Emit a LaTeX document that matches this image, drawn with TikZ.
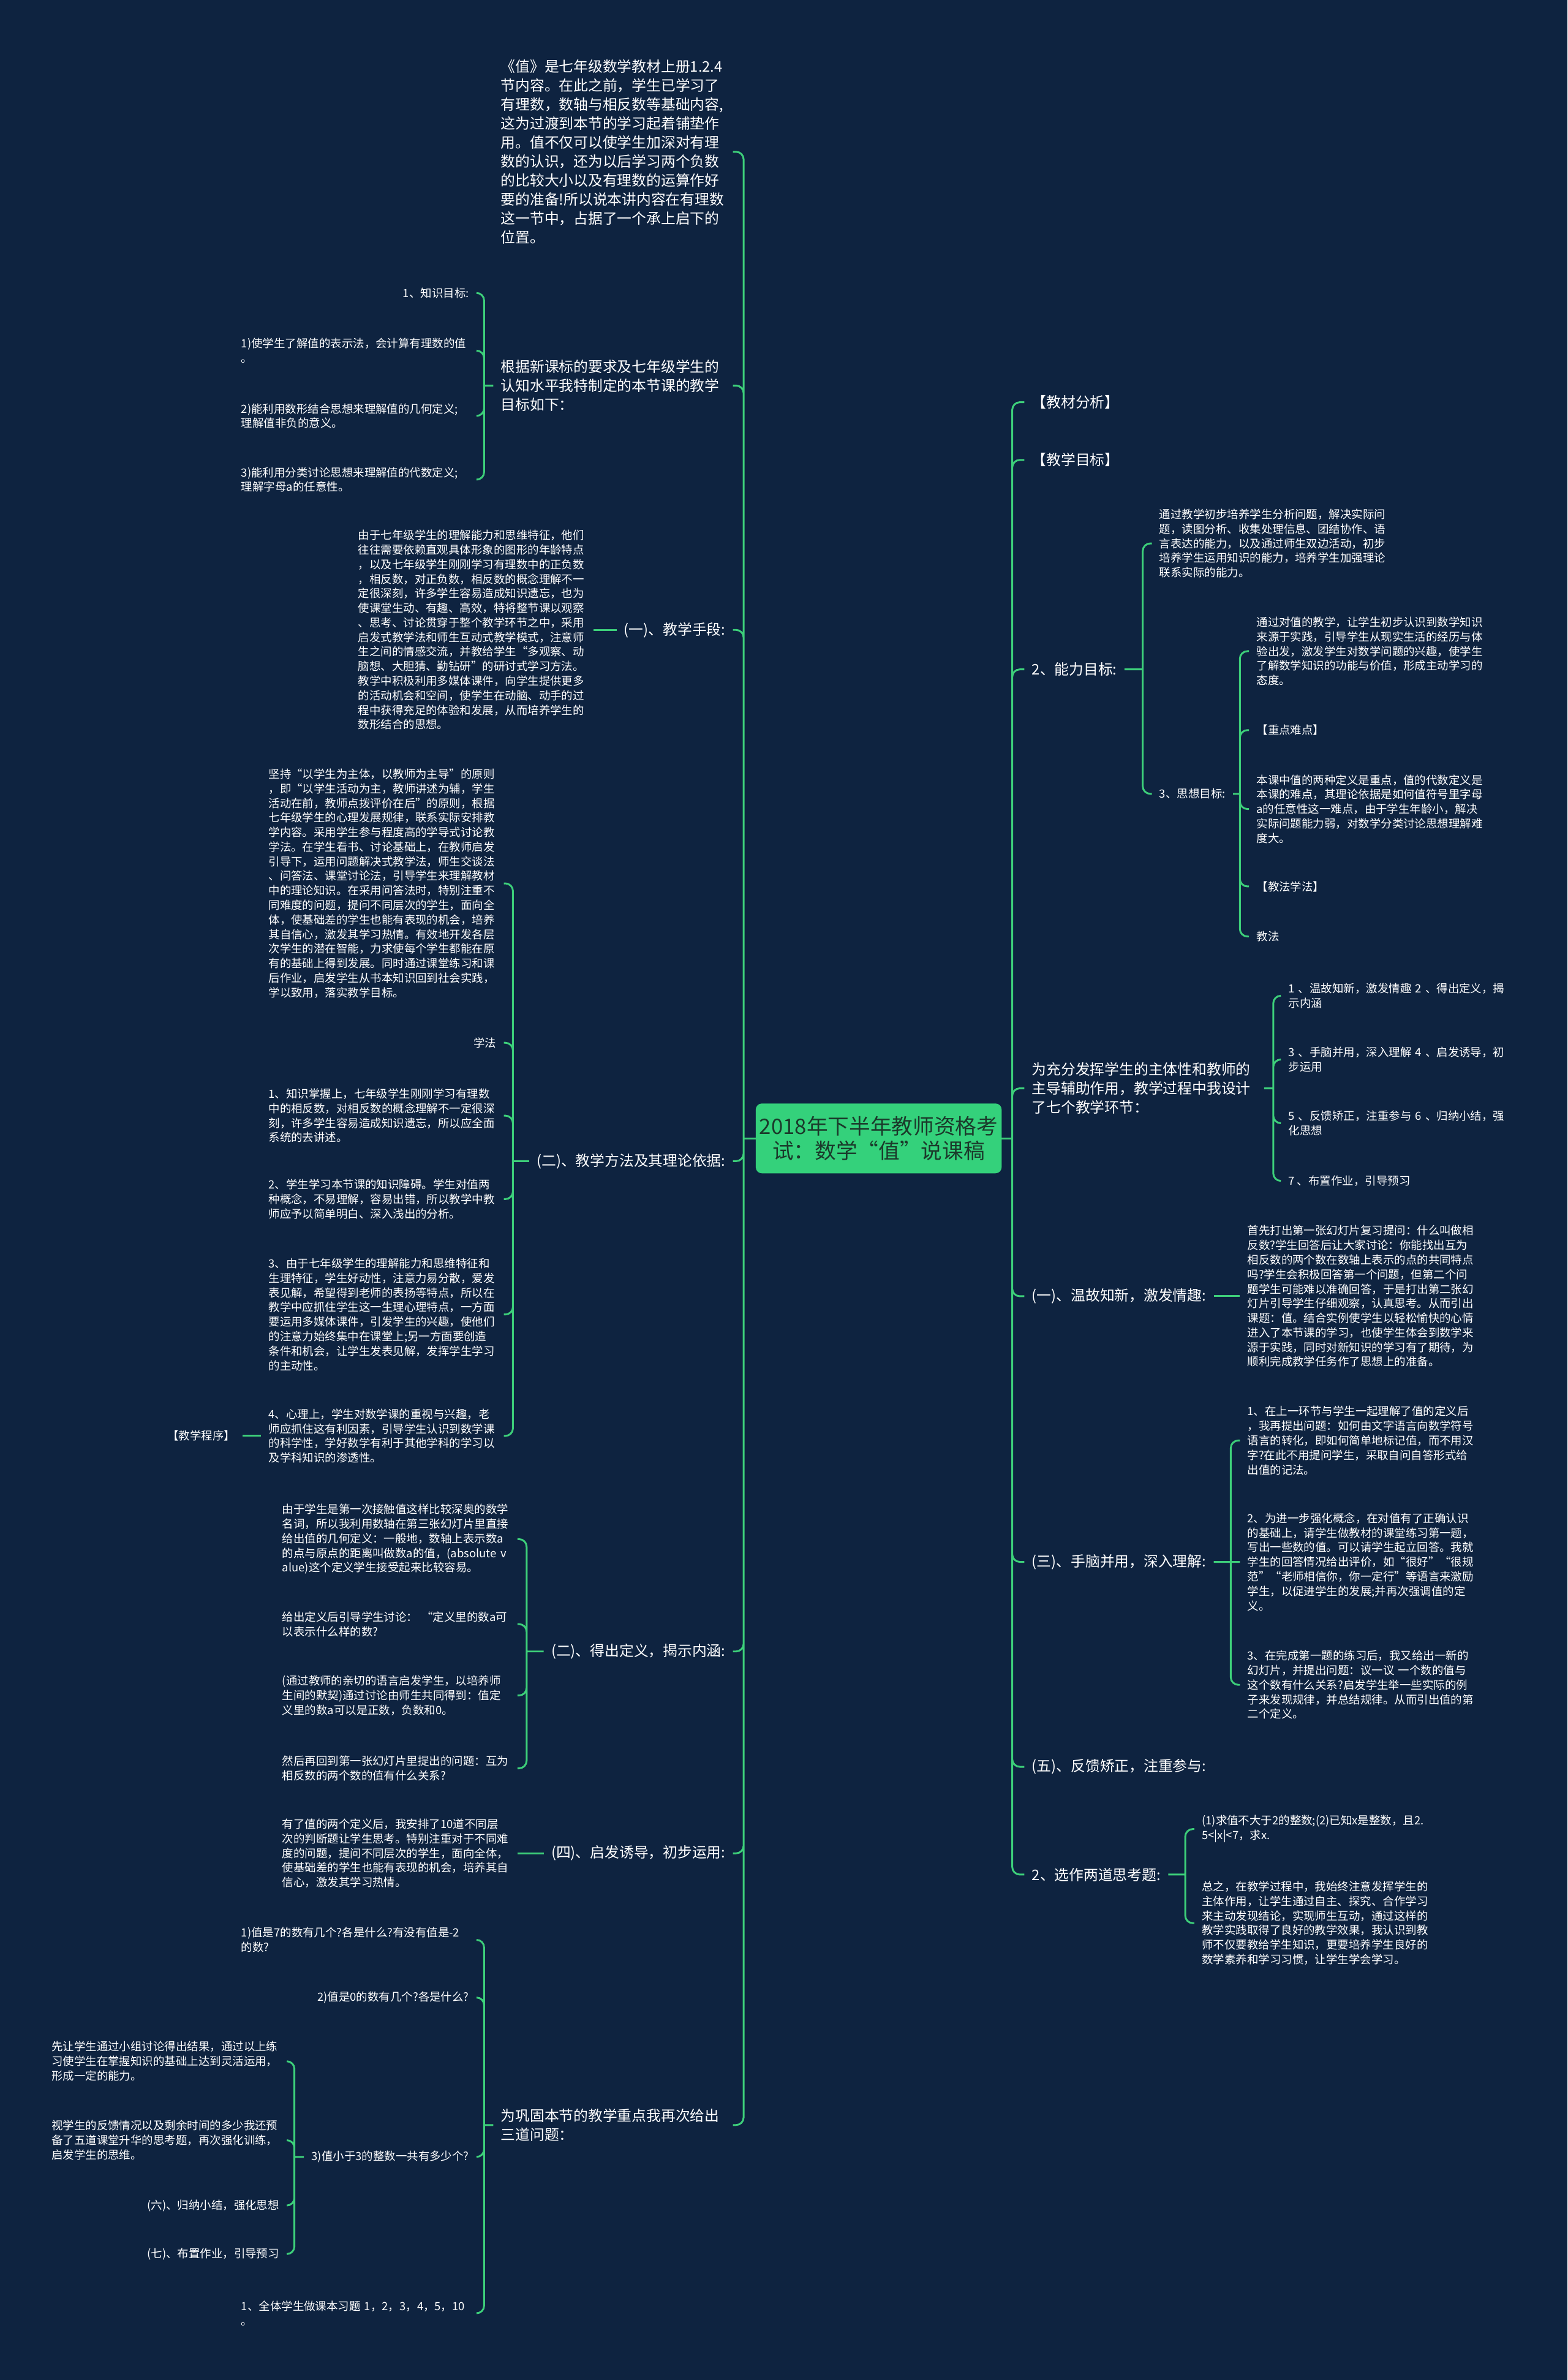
\documentclass[tikz,border=0pt]{standalone}
\usepackage{fontspec}
\setmainfont{Noto Sans CJK SC}
\definecolor{bgnavy}{HTML}{0E2340}
\definecolor{linkgreen}{HTML}{3DCF7A}
\definecolor{rootgreen}{HTML}{34D17B}
\definecolor{roottext}{HTML}{1B3A2B}

\begin{document}
\begin{tikzpicture}[x=1pt, y=-1pt,
	every node/.style={text=white, inner sep=0pt, outer xsep=5pt, outer ysep=0pt, align=left},
	big/.style={font=\fontsize{9.6}{12.5}\selectfont},
	small/.style={font=\fontsize{7.45}{9.6}\selectfont},
	bigpara/.style={big, text width=148pt},
	para/.style={small, text width=150pt},
	link/.style={draw=linkgreen, line width=1.2pt, rounded corners=5pt},
	root/.style={fill=rootgreen, text=roottext, rounded corners=4pt, minimum width=162pt, minimum height=46pt, align=center, outer sep=0pt, font=\fontsize{14}{16.5}\selectfont}]
	\path[use as bounding box, fill=bgnavy] (0,0) rectangle (1033,1568);

	\node[root] (root) at (579,750) {2018年下半年教师资格考\\试：数学“值”说课稿};
	\coordinate (jL) at (490,750);
	\coordinate (jR) at (667,750);

	\node[bigpara, anchor=east] (intro) at (483,100) {《值》是七年级数学教材上册1.2.4\\节内容。在此之前，学生已学习了\\有理数，数轴与相反数等基础内容,\\这为过渡到本节的学习起着铺垫作\\用。值不仅可以使学生加深对有理\\数的认识，还为以后学习两个负数\\的比较大小以及有理数的运算作好\\要的准备!所以说本讲内容在有理数\\这一节中，占据了一个承上启下的\\位置。};
	\node[bigpara, anchor=east] (goals) at (483,254) {根据新课标的要求及七年级学生的\\认知水平我特制定的本节课的教学\\目标如下：};
	\node[big, anchor=east] (means) at (483,415) {(一)、教学手段:};
	\node[big, anchor=east] (method) at (483,765) {(二)、教学方法及其理论依据:};
	\node[big, anchor=east] (define) at (483,1088) {(二)、得出定义，揭示内涵:};
	\node[big, anchor=east] (apply) at (483,1221) {(四)、启发诱导，初步运用:};
	\node[bigpara, anchor=east] (consol) at (483,1400) {为巩固本节的教学重点我再次给出\\三道问题：};

	\coordinate (jG) at (319,254);
	\node[small, anchor=east] (goalK) at (314,193) {1、知识目标:};
	\node[para, anchor=east] (goal1) at (314,231) {1)使学生了解值的表示法，会计算有理数的值\\。};
	\node[para, anchor=east] (goal2) at (314,274) {2)能利用数形结合思想来理解值的几何定义;\\理解值非负的意义。};
	\node[para, anchor=east] (goal3) at (314,316) {3)能利用分类讨论思想来理解值的代数定义;\\理解字母a的任意性。};

	\node[para, anchor=east] (meansTxt) at (391,415) {由于七年级学生的理解能力和思维特征，他们\\往往需要依赖直观具体形象的图形的年龄特点\\，以及七年级学生刚刚学习有理数中的正负数\\，相反数，对正负数，相反数的概念理解不一\\定很深刻，许多学生容易造成知识遗忘，也为\\使课堂生动、有趣、高效，特将整节课以观察\\、思考、讨论贯穿于整个教学环节之中，采用\\启发式教学法和师生互动式教学模式，注意师\\生之间的情感交流，并教给学生“多观察、动\\脑想、大胆猜、勤钻研”的研讨式学习方法。\\教学中积极利用多媒体课件，向学生提供更多\\的活动机会和空间，使学生在动脑、动手的过\\程中获得充足的体验和发展，从而培养学生的\\数形结合的思想。};

	\coordinate (jM) at (338,765);
	\node[para, anchor=east] (methodA) at (332,582) {坚持“以学生为主体，以教师为主导”的原则\\，即“以学生活动为主，教师讲述为辅，学生\\活动在前，教师点拨评价在后”的原则，根据\\七年级学生的心理发展规律，联系实际安排教\\学内容。采用学生参与程度高的学导式讨论教\\学法。在学生看书、讨论基础上，在教师启发\\引导下，运用问题解决式教学法，师生交谈法\\、问答法、课堂讨论法，引导学生来理解教材\\中的理论知识。在采用问答法时，特别注重不\\同难度的问题，提问不同层次的学生，面向全\\体，使基础差的学生也能有表现的机会，培养\\其自信心，激发其学习热情。有效地开发各层\\次学生的潜在智能，力求使每个学生都能在原\\有的基础上得到发展。同时通过课堂练习和课\\后作业，启发学生从书本知识回到社会实践，\\学以致用，落实教学目标。};
	\node[small, anchor=east] (studyM) at (332,687) {学法};
	\node[para, anchor=east] (basis1) at (332,735) {1、知识掌握上，七年级学生刚刚学习有理数\\中的相反数，对相反数的概念理解不一定很深\\刻，许多学生容易造成知识遗忘，所以应全面\\系统的去讲述。};
	\node[para, anchor=east] (basis2) at (332,790) {2、学生学习本节课的知识障碍。学生对值两\\种概念，不易理解，容易出错，所以教学中教\\师应予以简单明白、深入浅出的分析。};
	\node[para, anchor=east] (basis3) at (332,866) {3、由于七年级学生的理解能力和思维特征和\\生理特征，学生好动性，注意力易分散，爱发\\表见解，希望得到老师的表扬等特点，所以在\\教学中应抓住学生这一生理心理特点，一方面\\要运用多媒体课件，引发学生的兴趣，使他们\\的注意力始终集中在课堂上;另一方面要创造\\条件和机会，让学生发表见解，发挥学生学习\\的主动性。};
	\node[para, anchor=east] (basis4) at (332,946) {4、心理上，学生对数学课的重视与兴趣，老\\师应抓住这有利因素，引导学生认识到数学课\\的科学性，学好数学有利于其他学科的学习以\\及学科知识的渗透性。};
	\node[small, anchor=east] (program) at (160,946) {【教学程序】};

	\coordinate (jD) at (347,1088);
	\node[para, anchor=east] (def1) at (341,1014) {由于学生是第一次接触值这样比较深奥的数学\\名词，所以我利用数轴在第三张幻灯片里直接\\给出值的几何定义：一般地，数轴上表示数a\\的点与原点的距离叫做数a的值，(absolute v\\alue)这个定义学生接受起来比较容易。};
	\node[para, anchor=east] (def2) at (341,1070) {给出定义后引导学生讨论： “定义里的数a可\\以表示什么样的数?};
	\node[para, anchor=east] (def3) at (341,1117) {(通过教师的亲切的语言启发学生，以培养师\\生间的默契)通过讨论由师生共同得到：值定\\义里的数a可以是正数，负数和0。};
	\node[para, anchor=east] (def4) at (341,1165) {然后再回到第一张幻灯片里提出的问题：互为\\相反数的两个数的值有什么关系?};

	\node[para, anchor=east] (applyTxt) at (341,1221) {有了值的两个定义后，我安排了10道不同层\\次的判断题让学生思考。特别注重对于不同难\\度的问题，提问不同层次的学生，面向全体，\\使基础差的学生也能有表现的机会，培养其自\\信心，激发其学习热情。};

	\coordinate (jC) at (319,1400);
	\node[para, anchor=east] (q1) at (314,1278) {1)值是7的数有几个?各是什么?有没有值是-2\\的数?};
	\node[small, anchor=east] (q2) at (314,1316) {2)值是0的数有几个?各是什么?};
	\node[small, anchor=east] (q3) at (314,1421) {3)值小于3的整数一共有多少个?};
	\node[para, anchor=east] (q4) at (314,1524) {1、全体学生做课本习题 1，2，3，4，5，10\\。};
	\coordinate (jQ) at (194,1421);
	\node[para, anchor=east] (q3a) at (189,1358) {先让学生通过小组讨论得出结果，通过以上练\\习使学生在掌握知识的基础上达到灵活运用，\\形成一定的能力。};
	\node[para, anchor=east] (q3b) at (189,1410) {视学生的反馈情况以及剩余时间的多少我还预\\备了五道课堂升华的思考题，再次强化训练，\\启发学生的思维。};
	\node[small, anchor=east] (q3c) at (189,1453) {(六)、归纳小结，强化思想};
	\node[small, anchor=east] (q3d) at (189,1485) {(七)、布置作业，引导预习};

	\node[big, anchor=west] (analysis) at (675,265) {【教材分析】};
	\node[big, anchor=west] (target) at (675,303) {【教学目标】};
	\node[big, anchor=west] (ability) at (675,441) {2、能力目标:};
	\node[bigpara, anchor=west] (steps) at (675,717) {为充分发挥学生的主体性和教师的\\主导辅助作用，教学过程中我设计\\了七个教学环节：};
	\node[big, anchor=west] (warm) at (675,854) {(一)、温故知新，激发情趣:};
	\node[big, anchor=west] (hands) at (675,1029) {(三)、手脑并用，深入理解:};
	\node[big, anchor=west] (feedback) at (675,1164) {(五)、反馈矫正，注重参与:};
	\node[big, anchor=west] (extra) at (675,1235) {2、选作两道思考题:};

	\coordinate (jA) at (753,441);
	\node[para, anchor=west] (abilityTxt) at (759,358) {通过教学初步培养学生分析问题，解决实际问\\题，读图分析、收集处理信息、团结协作、语\\言表达的能力，以及通过师生双边活动，初步\\培养学生运用知识的能力，培养学生加强理论\\联系实际的能力。};
	\node[small, anchor=west] (thought) at (759,523) {3、思想目标:};
	\coordinate (jT) at (817,523);
	\node[para, anchor=west] (thoughtTxt) at (823,429) {通过对值的教学，让学生初步认识到数学知识\\来源于实践，引导学生从现实生活的经历与体\\验出发，激发学生对数学问题的兴趣，使学生\\了解数学知识的功能与价值，形成主动学习的\\态度。};
	\node[small, anchor=west] (keyTitle) at (823,481) {【重点难点】};
	\node[para, anchor=west] (keyTxt) at (823,533) {本课中值的两种定义是重点，值的代数定义是\\本课的难点，其理论依据是如何值符号里字母\\a的任意性这一难点，由于学生年龄小，解决\\实际问题能力弱，对数学分类讨论思想理解难\\度大。};
	\node[small, anchor=west] (methodTitle) at (823,584) {【教法学法】};
	\node[small, anchor=west] (teachM) at (823,617) {教法};

	\coordinate (jS) at (839,717);
	\node[para, anchor=west] (stage1) at (844,656) {1 、温故知新，激发情趣 2 、得出定义，揭\\示内涵};
	\node[para, anchor=west] (stage2) at (844,698) {3 、手脑并用，深入理解 4 、启发诱导，初\\步运用};
	\node[para, anchor=west] (stage3) at (844,740) {5 、反馈矫正，注重参与 6 、归纳小结，强\\化思想};
	\node[small, anchor=west] (stage4) at (844,778) {7 、布置作业，引导预习};

	\node[para, anchor=west] (warmTxt) at (817,854) {首先打出第一张幻灯片复习提问：什么叫做相\\反数?学生回答后让大家讨论：你能找出互为\\相反数的两个数在数轴上表示的点的共同特点\\吗?学生会积极回答第一个问题，但第二个问\\题学生可能难以准确回答，于是打出第二张幻\\灯片引导学生仔细观察，认真思考。从而引出\\课题：值。结合实例使学生以轻松愉快的心情\\进入了本节课的学习，也使学生体会到数学来\\源于实践，同时对新知识的学习有了期待，为\\顺利完成教学任务作了思想上的准备。};

	\coordinate (jH) at (811,1029);
	\node[para, anchor=west] (hands1) at (817,949) {1、在上一环节与学生一起理解了值的定义后\\，我再提出问题：如何由文字语言向数学符号\\语言的转化，即如何简单地标记值，而不用汉\\字?在此不用提问学生，采取自问自答形式给\\出值的记法。};
	\node[para, anchor=west] (hands2) at (817,1029) {2、为进一步强化概念，在对值有了正确认识\\的基础上，请学生做教材的课堂练习第一题，\\写出一些数的值。可以请学生起立回答。我就\\学生的回答情况给出评价，如“很好”“很规\\范”“老师相信你，你一定行”等语言来激励\\学生，以促进学生的发展;并再次强调值的定\\义。};
	\node[para, anchor=west] (hands3) at (817,1110) {3、在完成第一题的练习后，我又给出一新的\\幻灯片，并提出问题：议一议 一个数的值与\\这个数有什么关系?启发学生举一些实际的例\\子来发现规律，并总结规律。从而引出值的第\\二个定义。};

	\coordinate (jE) at (781,1235);
	\node[para, anchor=west] (extra1) at (787,1205) {(1)求值不大于2的整数;(2)已知x是整数，且2.\\5<|x|<7，求x.};
	\node[para, anchor=west] (extra2) at (787,1267) {总之，在教学过程中，我始终注意发挥学生的\\主体作用，让学生通过自主、探究、合作学习\\来主动发现结论，实现师生互动，通过这样的\\教学实践取得了良好的教学效果，我认识到教\\师不仅要教给学生知识，更要培养学生良好的\\数学素养和学习习惯，让学生学会学习。};

	\draw[link] (root.west) -- (jL) (root.east) -- (jR);
	\draw[link] (jL) |- (intro.east) (jL) |- (goals.east) (jL) |- (means.east) (jL) |- (method.east) (jL) |- (define.east) (jL) |- (apply.east) (jL) |- (consol.east);
	\draw[link] (jR) |- (analysis.west) (jR) |- (target.west) (jR) |- (ability.west) (jR) |- (steps.west) (jR) |- (warm.west) (jR) |- (hands.west) (jR) |- (feedback.west) (jR) |- (extra.west);
	\draw[link] (goals.west) -- (jG) (jG) |- (goalK.east) (jG) |- (goal1.east) (jG) |- (goal2.east) (jG) |- (goal3.east);
	\draw[link] (meansTxt.east) -- (means.west);
	\draw[link] (method.west) -- (jM) (jM) |- (methodA.east) (jM) |- (studyM.east) (jM) |- (basis1.east) (jM) |- (basis2.east) (jM) |- (basis3.east) (jM) |- (basis4.east);
	\draw[link] (program.east) -- (basis4.west);
	\draw[link] (define.west) -- (jD) (jD) |- (def1.east) (jD) |- (def2.east) (jD) |- (def3.east) (jD) |- (def4.east);
	\draw[link] (applyTxt.east) -- (apply.west);
	\draw[link] (consol.west) -- (jC) (jC) |- (q1.east) (jC) |- (q2.east) (jC) |- (q3.east) (jC) |- (q4.east);
	\draw[link] (q3.west) -- (jQ) (jQ) |- (q3a.east) (jQ) |- (q3b.east) (jQ) |- (q3c.east) (jQ) |- (q3d.east);
	\draw[link] (ability.east) -- (jA) (jA) |- (abilityTxt.west) (jA) |- (thought.west);
	\draw[link] (thought.east) -- (jT) (jT) |- (thoughtTxt.west) (jT) |- (keyTitle.west) (jT) |- (keyTxt.west) (jT) |- (methodTitle.west) (jT) |- (teachM.west);
	\draw[link] (steps.east) -- (jS) (jS) |- (stage1.west) (jS) |- (stage2.west) (jS) |- (stage3.west) (jS) |- (stage4.west);
	\draw[link] (warm.east) -- (warmTxt.west);
	\draw[link] (hands.east) -- (hands2.west) (jH) |- (hands1.west) (jH) |- (hands3.west);
	\draw[link] (extra.east) -- (jE) (jE) |- (extra1.west) (jE) |- (extra2.west);
\end{tikzpicture}
\end{document}
